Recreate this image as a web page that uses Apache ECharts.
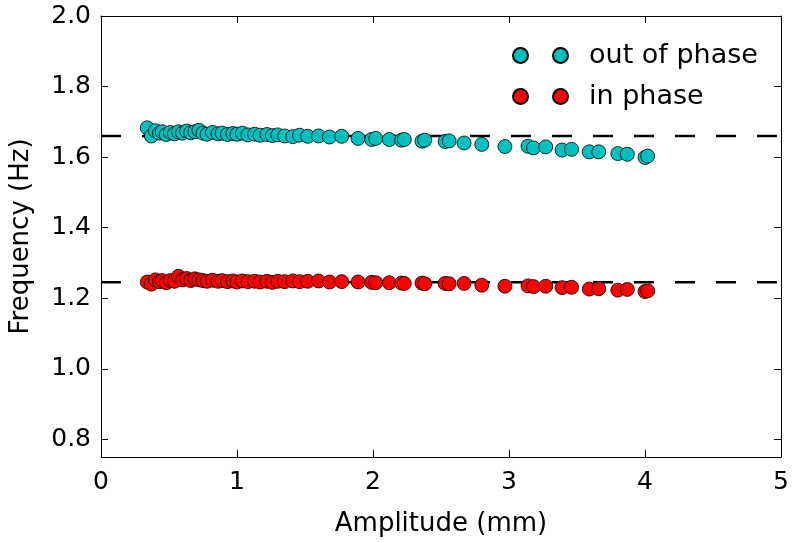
<!DOCTYPE html>
<html>
<head>
<meta charset="utf-8">
<script src="https://cdn.jsdelivr.net/npm/echarts@6/dist/echarts.min.js"></script>
<style>html,body{margin:0;padding:0;background:#fff}#c{width:796px;height:543px}</style>
</head>
<body>
<div id="c"></div>
<script>
const amplitude = [0.34,0.37,0.40,0.43,0.45,0.48,0.51,0.54,0.57,0.60,0.63,0.66,0.69,0.72,0.75,0.78,0.82,0.86,0.89,0.93,0.97,1.00,1.04,1.08,1.13,1.17,1.22,1.26,1.30,1.35,1.41,1.46,1.52,1.60,1.68,1.77,1.89,1.99,2.02,2.12,2.21,2.23,2.36,2.38,2.53,2.56,2.67,2.80,2.97,3.14,3.18,3.27,3.39,3.46,3.59,3.66,3.80,3.87,4.00,4.02];
const outOfPhase = [1.683,1.660,1.675,1.668,1.672,1.664,1.670,1.666,1.672,1.668,1.674,1.669,1.672,1.676,1.668,1.665,1.670,1.666,1.668,1.664,1.667,1.665,1.668,1.663,1.665,1.662,1.664,1.661,1.663,1.660,1.658,1.662,1.659,1.660,1.657,1.659,1.653,1.650,1.653,1.650,1.648,1.650,1.645,1.648,1.644,1.646,1.640,1.636,1.630,1.631,1.626,1.629,1.620,1.622,1.615,1.615,1.610,1.608,1.599,1.603];
const inPhase = [1.246,1.240,1.252,1.247,1.250,1.244,1.250,1.248,1.262,1.252,1.256,1.250,1.255,1.252,1.250,1.248,1.251,1.248,1.250,1.247,1.249,1.246,1.249,1.247,1.248,1.246,1.248,1.245,1.248,1.247,1.249,1.247,1.248,1.249,1.246,1.247,1.246,1.245,1.244,1.244,1.243,1.242,1.243,1.241,1.242,1.241,1.242,1.237,1.234,1.235,1.233,1.234,1.230,1.231,1.226,1.227,1.223,1.225,1.219,1.221];
const refLevels = [1.66, 1.245];
const xRange = [0, 5];
const yTicks = [0.8, 1.0, 1.2, 1.4, 1.6, 1.8, 2.0];

const FONT = 'DejaVu Sans';
const chart = echarts.init(document.getElementById('c'), null, {renderer: 'canvas'});
const pairs = ys => amplitude.map((x, i) => [x, ys[i]]);
const twoDots = 'path://M0,7.5a7.5,7.5 0 1,0 15,0a7.5,7.5 0 1,0 -15,0M40,7.5a7.5,7.5 0 1,0 15,0a7.5,7.5 0 1,0 -15,0';

const axisCommon = {
  axisLine: {show: true, onZero: false, lineStyle: {color: '#000', width: 1}},
  axisTick: {show: true, inside: true, length: 7, lineStyle: {color: '#000', width: 1}},
  splitLine: {show: false}
};

chart.setOption({
  animation: false,
  backgroundColor: '#fff',
  grid: {left: 98, right: 15, top: 16, bottom: 86, containLabel: false},
  legend: {
    orient: 'vertical', left: 507, top: 37, itemWidth: 55, itemHeight: 15, itemGap: 14,
    textStyle: {fontFamily: FONT, fontSize: 27, color: '#000', lineHeight: 26, padding: [0, 0, 0, 16]},
    data: [{name: 'out of phase', icon: twoDots}, {name: 'in phase', icon: twoDots}]
  },
  xAxis: [
    Object.assign({}, axisCommon, {
      type: 'value', min: xRange[0], max: xRange[1], interval: 1, position: 'bottom',
      name: 'Amplitude (mm)', nameLocation: 'middle', nameGap: 54,
      nameTextStyle: {fontFamily: FONT, fontSize: 26, color: '#000'},
      axisLabel: {fontFamily: FONT, fontSize: 25, color: '#000', margin: 13}
    }),
    Object.assign({}, axisCommon, {
      type: 'value', min: xRange[0], max: xRange[1], interval: 1, position: 'top',
      axisLabel: {show: false}
    })
  ],
  yAxis: [
    Object.assign({}, axisCommon, {
      type: 'value', min: 0.75, max: 2.0, position: 'left',
      name: 'Frequency (Hz)', nameLocation: 'middle', nameGap: 67,
      nameTextStyle: {fontFamily: FONT, fontSize: 26, color: '#000'},
      axisTick: Object.assign({}, axisCommon.axisTick, {customValues: yTicks}),
      axisLabel: {fontFamily: FONT, fontSize: 25, color: '#000', margin: 10, customValues: yTicks,
        formatter: v => v.toFixed(1)}
    }),
    Object.assign({}, axisCommon, {
      type: 'value', min: 0.75, max: 2.0, position: 'right',
      axisTick: Object.assign({}, axisCommon.axisTick, {customValues: yTicks}),
      axisLabel: {show: false}
    })
  ],
  series: [
    {
      name: 'ref1', type: 'line', data: [[xRange[0], refLevels[0]], [xRange[1], refLevels[0]]],
      symbol: 'none', silent: true, z: 1,
      lineStyle: {color: '#000', width: 2.5, type: [20, 21]}
    },
    {
      name: 'ref2', type: 'line', data: [[xRange[0], refLevels[1]], [xRange[1], refLevels[1]]],
      symbol: 'none', silent: true, z: 1,
      lineStyle: {color: '#000', width: 2.5, type: [20, 21]}
    },
    {
      name: 'out of phase', type: 'scatter', data: pairs(outOfPhase), symbolSize: 14, z: 3,
      itemStyle: {color: '#00bfbf', borderColor: '#000', borderWidth: 0.8, opacity: 1}
    },
    {
      name: 'in phase', type: 'scatter', data: pairs(inPhase), symbolSize: 14, z: 3,
      itemStyle: {color: '#ff0000', borderColor: '#000', borderWidth: 0.8, opacity: 1}
    }
  ]
});
</script>
</body>
</html>
